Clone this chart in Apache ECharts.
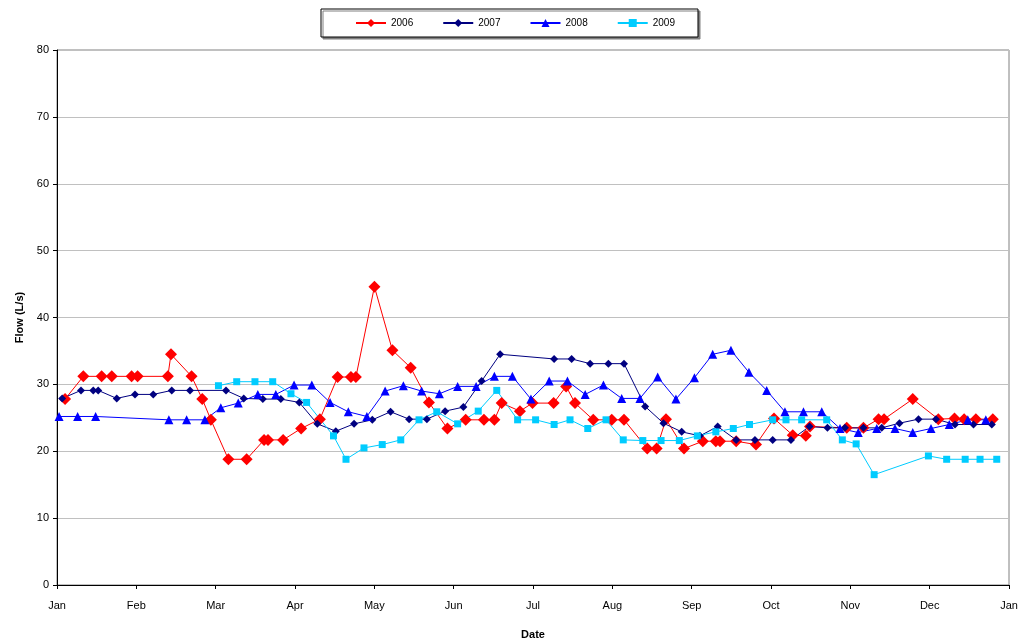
<!DOCTYPE html>
<html>
<head>
<meta charset="utf-8">
<script src="https://cdn.jsdelivr.net/npm/echarts@6/dist/echarts.min.js"></script>
<style>html,body{margin:0;padding:0;background:#fff;}#c{width:1019px;height:641px;}</style>
</head>
<body>
<div id="c"></div>
<script>
// x = day of year (0..365), y = flow (L/s); axis ticks are 12 equal month steps
var monthNames = ['Jan','Feb','Mar','Apr','May','Jun','Jul','Aug','Sep','Oct','Nov','Dec','Jan'];
var yTicks = [0,10,20,30,40,50,60,70,80];

var d2006 = [3.1,10.1,17.1,21,28.6,30.9,42.5,43.7,51.6,55.7,59,65.7,72.7,79.4,80.9,86.7,93.6,100.8,107.6,112.7,114.6,121.7,128.6,135.6,142.6,149.7,156.7,163.7,167.7,170.5,177.5,182.3,190.4,195.2,198.6,205.6,212.7,217.4,226.3,229.9,233.5,240.4,247.6,252.6,254.2,260.4,268,274.9,282.1,287.1,288.7,302.8,309.2,315,317.1,328.1,337.9,344.1,347.8,352.3,358.8];
var v2006 = [27.8,31.2,31.2,31.2,31.2,31.2,31.2,34.5,31.2,27.8,24.7,18.8,18.8,21.7,21.7,21.7,23.4,24.8,31.1,31.1,31.1,44.6,35.1,32.5,27.3,23.4,24.7,24.7,24.7,27.2,26.0,27.2,27.2,29.7,27.2,24.7,24.7,24.7,20.4,20.4,24.8,20.4,21.5,21.5,21.5,21.5,21.0,24.9,22.4,22.3,23.7,23.5,23.5,24.8,24.8,27.8,24.8,24.9,24.8,24.8,24.8];

var d2007 = [2,9.2,13.9,15.8,22.9,29.9,36.9,44,51,64.8,71.6,78.9,85.8,92.9,99.8,106.9,113.9,120.9,127.9,135,141.8,148.8,155.8,162.8,169.9,190.6,197.3,204.4,211.4,217.4,225.5,232.5,239.5,246.5,253.3,260.4,267.6,274.4,281.4,288.5,295.4,302.1,309.2,316.2,323,330.3,337,344.3,351.4,358.4];
var v2007 = [27.9,29.1,29.1,29.1,27.9,28.5,28.5,29.1,29.1,29.1,27.9,27.8,27.8,27.3,24.1,23.0,24.1,24.7,25.9,24.8,24.8,26.0,26.6,30.5,34.5,33.8,33.8,33.1,33.1,33.1,26.7,24.2,22.9,22.3,23.7,21.7,21.7,21.7,21.7,23.7,23.5,23.5,23.5,23.5,24.2,24.8,24.8,24.0,24.0,24.0];

var d2008 = [0.8,7.9,14.8,42.9,49.7,56.7,62.8,69.5,77,83.9,90.9,97.7,104.7,111.7,118.8,125.8,132.8,139.8,146.6,153.6,160.7,167.7,174.6,181.7,188.7,195.7,202.5,209.5,216.5,223.5,230.3,237.3,244.4,251.4,258.4,265.3,272.1,279.1,286.2,293.2,300.2,307.2,314.3,321.3,328.1,335.1,342.1,349.2,356.1];
var v2008 = [25.2,25.2,25.2,24.7,24.7,24.7,26.5,27.2,28.5,28.5,29.9,29.9,27.3,25.9,25.2,29.0,29.8,29.0,28.6,29.7,29.7,31.2,31.2,27.8,30.5,30.5,28.5,29.9,27.9,27.9,31.1,27.8,31.0,34.5,35.1,31.8,29.1,25.9,25.9,25.9,23.4,22.8,23.4,23.4,22.8,23.4,24.0,24.7,24.7];

var d2009 = [61.9,68.9,75.9,82.7,89.7,95.7,106,110.8,117.7,124.7,131.8,138.8,145.6,153.6,161.5,168.6,176.6,183.5,190.6,196.7,203.5,210.5,217.1,224.6,231.6,238.6,245.5,252.6,259.3,265.5,274.4,279.5,285.5,295.1,301.1,306.4,313.3,334.1,341.1,348.2,353.9,360.3];
var v2009 = [29.8,30.4,30.4,30.4,28.6,27.3,22.3,18.8,20.5,21.0,21.7,24.7,25.9,24.1,26.0,29.1,24.7,24.7,24.0,24.7,23.4,24.7,21.7,21.6,21.6,21.6,22.3,22.9,23.4,24.0,24.7,24.7,24.7,24.7,21.7,21.1,16.5,19.3,18.8,18.8,18.8,18.8];

// convert day of year to month units (axis runs 0..12 in equal month steps)
function zip(d, v) { return d.map(function (x, i) { return [x * 12 / 365, v[i]]; }); }

var FONT = 'Liberation Sans, Arial, sans-serif';
var chart = echarts.init(document.getElementById('c'), null, {renderer: 'canvas'});

function mkSeries(name, d, v, color, symbol, size) {
  return {
    name: name, type: 'line', data: zip(d, v),
    symbol: symbol, symbolSize: size, showAllSymbol: true,
    lineStyle: {color: color, width: 1},
    itemStyle: {color: color, borderWidth: 0},
    emphasis: {disabled: true},
    animation: false
  };
}

chart.setOption({
  animation: false,
  backgroundColor: '#fff',
  textStyle: {fontFamily: FONT},
  legend: {
    left: 321, top: 9,
    padding: [9, 23, 9, 34],
    itemGap: 29, itemWidth: 30, itemHeight: 10,
    borderColor: '#000', borderWidth: 1,
    shadowColor: '#808080', shadowOffsetX: 2, shadowOffsetY: 2, shadowBlur: 0,
    backgroundColor: '#fff',
    textStyle: {fontSize: 10, fontFamily: FONT, color: '#000'},
    data: ['2006','2007','2008','2009']
  },
  grid: {left: 57, right: 10, top: 50, bottom: 56, show: true, borderColor: '#808080', borderWidth: 1,
    containLabel: false, outerBoundsMode: 'none'},
  xAxis: {
    type: 'value', min: 0, max: 12, interval: 1,
    name: 'Date', nameLocation: 'middle', nameGap: 44,
    nameTextStyle: {fontWeight: 'bold', fontSize: 11, color: '#000', fontFamily: FONT},
    axisLine: {lineStyle: {color: '#000', width: 1}},
    axisTick: {show: true, length: 4, lineStyle: {color: '#000'}},
    axisLabel: {
      fontSize: 11, color: '#000', margin: 15, fontFamily: FONT, showMaxLabel: true, showMinLabel: true,
      formatter: function (val) { return monthNames[Math.round(val)] || ''; }
    },
    splitLine: {show: false}
  },
  yAxis: {
    type: 'value', min: 0, max: 80, interval: 10,
    name: 'Flow (L/s)', nameLocation: 'middle', nameGap: 31, nameRotate: 90,
    nameTextStyle: {fontWeight: 'bold', fontSize: 11, color: '#000', fontFamily: FONT},
    axisLine: {show: true, lineStyle: {color: '#000', width: 1}},
    axisTick: {show: true, length: 4, lineStyle: {color: '#000'}},
    axisLabel: {fontSize: 11, color: '#000', margin: 8, fontFamily: FONT,
      formatter: function (v) { return yTicks.indexOf(v) >= 0 ? String(v) : ''; }},
    splitLine: {show: true, lineStyle: {color: '#c0c0c0', width: 1}}
  },
  series: [
    mkSeries('2006', d2006, v2006, '#FF0000', 'diamond', 12),
    mkSeries('2007', d2007, v2007, '#000080', 'diamond', 8),
    mkSeries('2008', d2008, v2008, '#0000FF', 'triangle', 9),
    mkSeries('2009', d2009, v2009, '#00CCFF', 'rect', 7)
  ]
});
</script>
</body>
</html>
